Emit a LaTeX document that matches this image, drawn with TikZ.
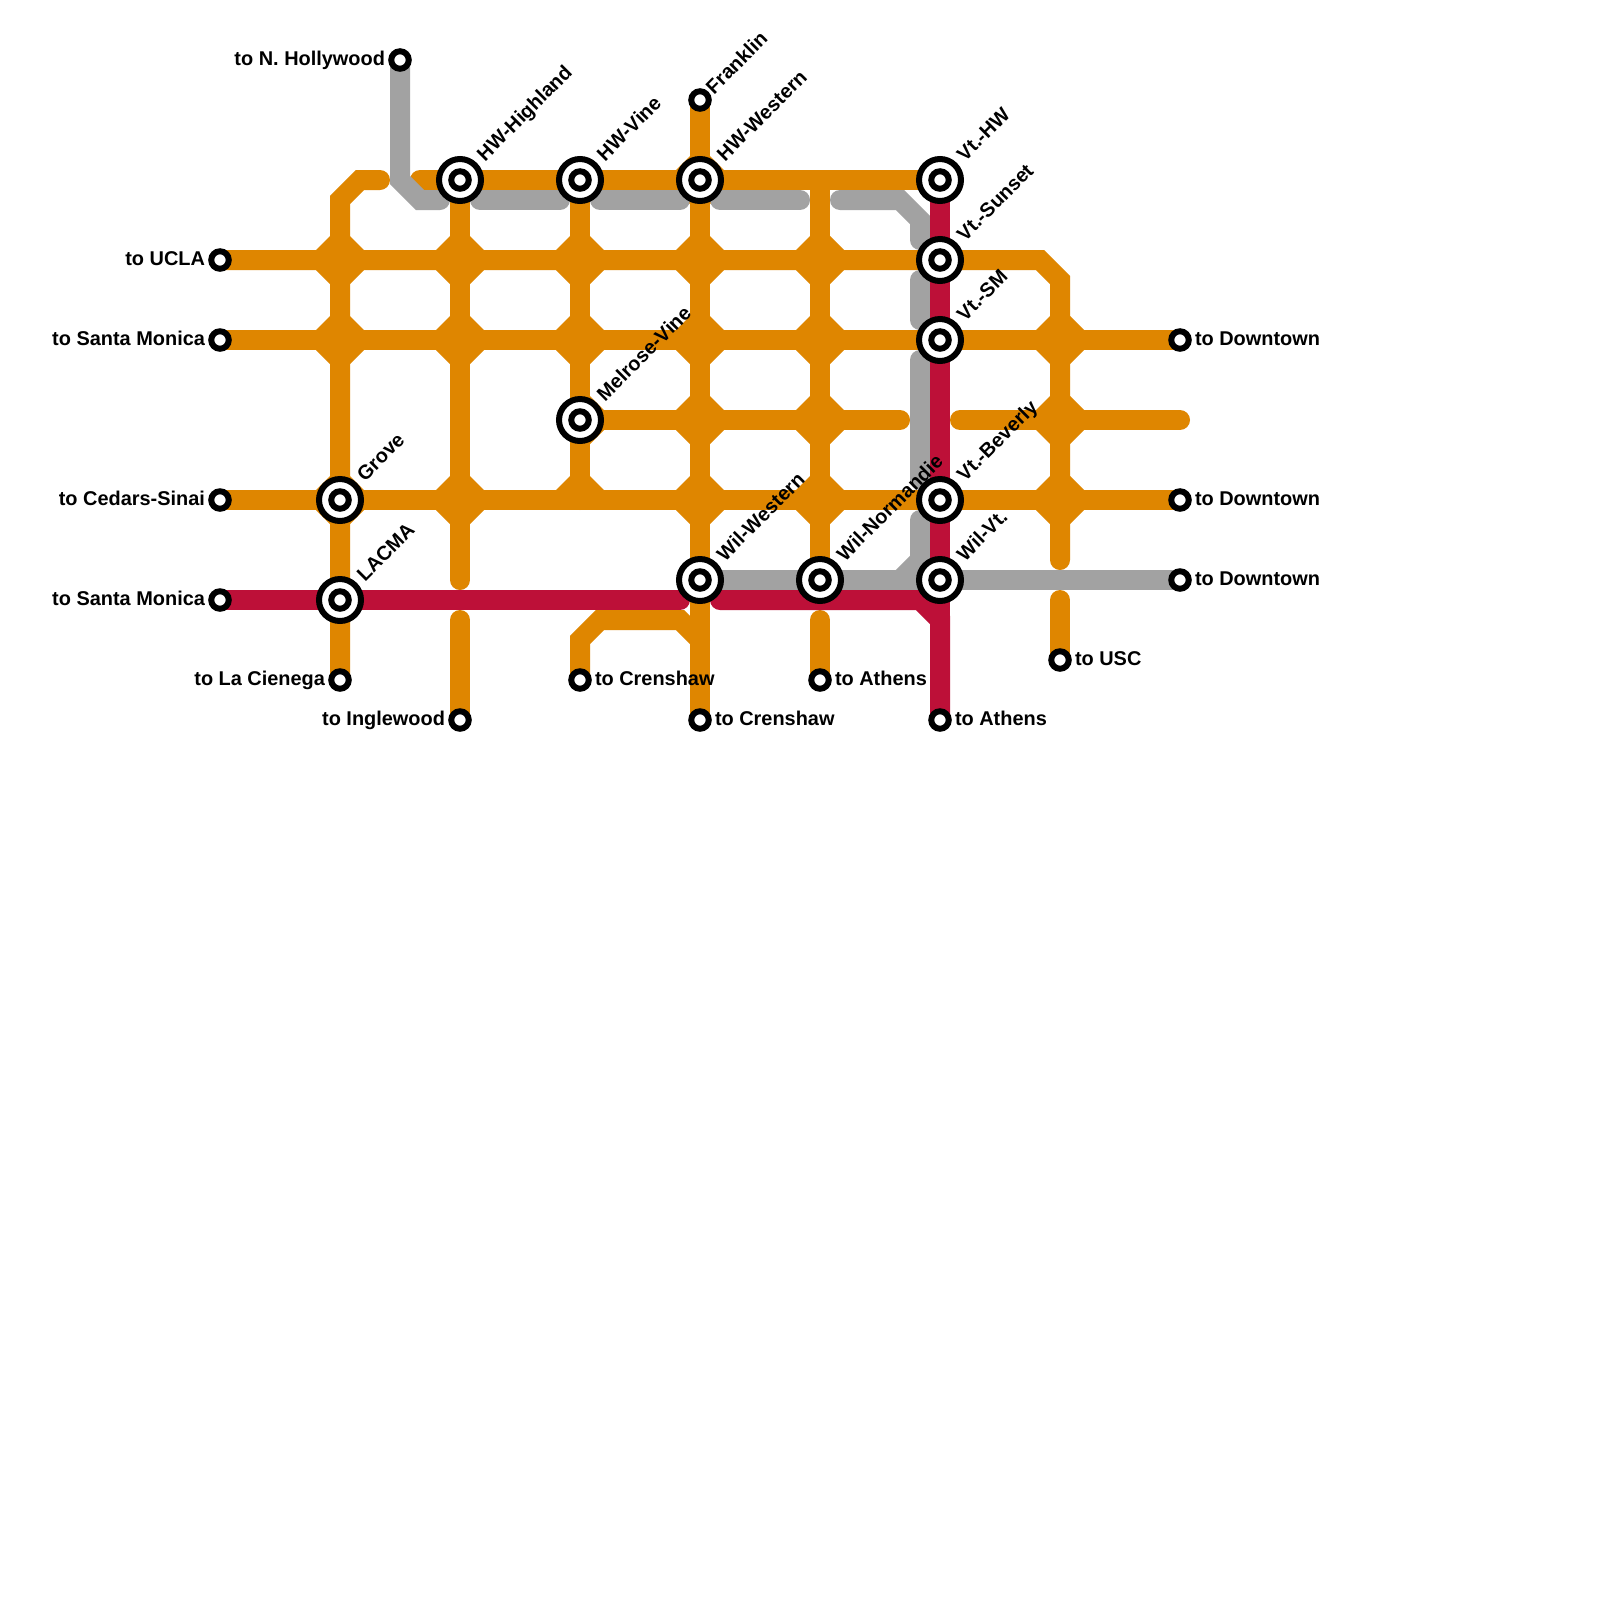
\documentclass[tikz,border=0pt]{standalone}
\usepackage{fontspec}
\setmainfont{Liberation Sans}
\definecolor{lineorange}{HTML}{DF8600}
\definecolor{linered}{HTML}{BD1038}
\definecolor{linegray}{HTML}{A2A2A2}
\pgfdeclarelayer{lines}
\pgfsetlayers{lines,main}
\tikzset{
  route/.style={line width=0.4cm,line cap=round,line join=miter},
  orangeroute/.style={route,draw=lineorange},
  grayroute/.style={route,draw=linegray},
  redroute/.style={route,draw=linered},
  terminal/.style={circle,draw=black,fill=white,line width=0.12cm,minimum size=0.35cm,inner sep=0pt,outer sep=0pt},
  hubring/.style={circle,draw=black,fill=white,line width=0.12cm,minimum size=0.84cm,inner sep=0pt,outer sep=0pt},
  txt/.style={font=\fontsize{11.34}{13}\selectfont\bfseries,inner sep=0pt,outer sep=0pt,text=black},
  slant/.style={txt,rotate=45,anchor=base west},
  rightlbl/.style={txt,anchor=base west},
  leftlbl/.style={txt,anchor=base east},
}
\newcommand{\hubstop}[4]{%
  \node[hubring] (#1) at (#2,#3) {};
  \node[terminal] (#1-core) at (#2,#3) {};
  \node[slant] (#1-label) at (#2+25,#3-18) {#4};
}
\newcommand{\termstop}[5]{%
  \node[terminal] (#1) at (#2,#3) {};
  \ifx#4l\node[leftlbl] (#1-label) at (#2-15,#3+5) {#5};\fi
  \ifx#4r\node[rightlbl] (#1-label) at (#2+15,#3+5) {#5};\fi
  \ifx#4s\node[slant] (#1-label) at (#2+14,#3-5) {#5};\fi
}
\begin{document}
\begin{tikzpicture}[x=0.02cm,y=-0.02cm]
\useasboundingbox (0,0) rectangle (1600,1600);
\foreach \x/\y in {1040/260,1060/280,1060/560,900/420,960/420,1180/420,420/180,340/200,360/180,380/180,
  460/580,460/620,580/500,580/640,600/620,680/620,700/640,820/180,820/620,1060/600,
  400/180,420/200,440/200,480/200,560/200,600/200,680/200,720/200,800/200,840/200,900/200,920/220,920/240,
  920/280,920/320,920/360,920/480,920/520,920/560,900/580,680/600,720/600,920/600,940/620}
  \coordinate (p\x-\y) at (\x,\y);
% stations
\hubstop{hwh}{460}{180}{HW-Highland}
\hubstop{hwv}{580}{180}{HW-Vine}
\hubstop{hww}{700}{180}{HW-Western}
\hubstop{vhw}{940}{180}{Vt.-HW}
\hubstop{vsu}{940}{260}{Vt.-Sunset}
\hubstop{vsm}{940}{340}{Vt.-SM}
\hubstop{mel}{580}{420}{Melrose-Vine}
\hubstop{gro}{340}{500}{Grove}
\hubstop{vbe}{940}{500}{Vt.-Beverly}
\hubstop{lac}{340}{600}{LACMA}
\hubstop{wwe}{700}{580}{Wil-Western}
\hubstop{wno}{820}{580}{Wil-Normandie}
\hubstop{wvt}{940}{580}{Wil-Vt.}
\termstop{tnh}{400}{60}{l}{to N. Hollywood}
\termstop{tfr}{700}{100}{s}{Franklin}
\termstop{tuc}{220}{260}{l}{to UCLA}
\termstop{tsma}{220}{340}{l}{to Santa Monica}
\termstop{tce}{220}{500}{l}{to Cedars-Sinai}
\termstop{tsmb}{220}{600}{l}{to Santa Monica}
\termstop{tla}{340}{680}{l}{to La Cienega}
\termstop{tin}{460}{720}{l}{to Inglewood}
\termstop{tcra}{580}{680}{r}{to Crenshaw}
\termstop{tcrb}{700}{720}{r}{to Crenshaw}
\termstop{tata}{820}{680}{r}{to Athens}
\termstop{tatb}{940}{720}{r}{to Athens}
\termstop{tus}{1060}{660}{r}{to USC}
\termstop{tdoa}{1180}{340}{r}{to Downtown}
\termstop{tdob}{1180}{500}{r}{to Downtown}
\termstop{tdoc}{1180}{580}{r}{to Downtown}
\begin{pgfonlayer}{lines}
\fill[white] (0,0) rectangle (1600,1600);
% orange junctions
\foreach \x/\y in {340/260,460/260,580/260,700/260,820/260,340/340,460/340,580/340,700/340,820/340,1060/340,
  700/420,820/420,1060/420,460/500,700/500,820/500,1060/500,340/500,700/180}
  \fill[lineorange,shift={(\x,\y)}] (-10,-24)--(10,-24)--(24,-10)--(24,10)--(10,24)--(-10,24)--(-24,10)--(-24,-10)--cycle;
\fill[lineorange,shift={(580,500)}] (-24,-10)--(-10,-24)--(10,-24)--(24,-10)--cycle;
\fill[lineorange,shift={(580,420)}] (10,-24)--(24,-10)--(24,10)--(10,24)--cycle;
% orange lines
\draw[orangeroute] (tuc.center) -- (p1040-260) -- (p1060-280) -- (p1060-560);
\draw[orangeroute] (tsma.center) -- (tdoa.center);
\draw[orangeroute] (mel.center) -- (p900-420);
\draw[orangeroute] (p960-420) -- (p1180-420);
\draw[orangeroute] (tce.center) -- (tdob.center);
\draw[orangeroute] (p420-180) -- (vhw.center);
\draw[orangeroute] (tla.center) -- (p340-200) -- (p360-180) -- (p380-180);
\draw[orangeroute] (hwh.center) -- (p460-580);
\draw[orangeroute] (p460-620) -- (tin.center);
\draw[orangeroute] (hwv.center) -- (p580-500);
\draw[orangeroute] (tcra.center) -- (p580-640) -- (p600-620) -- (p680-620) -- (p700-640);
\draw[orangeroute] (tfr.center) -- (tcrb.center);
\draw[orangeroute] (p820-180) -- (wno.center);
\draw[orangeroute] (p820-620) -- (tata.center);
\draw[orangeroute] (p1060-600) -- (tus.center);
% gray lines
\draw[grayroute] (tnh.center) -- (p400-180) -- (p420-200) -- (p440-200);
\draw[grayroute] (p480-200) -- (p560-200);
\draw[grayroute] (p600-200) -- (p680-200);
\draw[grayroute] (p720-200) -- (p800-200);
\draw[grayroute] (p840-200) -- (p900-200) -- (p920-220) -- (p920-240);
\draw[grayroute] (p920-280) -- (p920-320);
\draw[grayroute] (p920-360) -- (p920-480);
\draw[grayroute] (p920-520) -- (p920-560) -- (p900-580);
\draw[grayroute] (wwe.center) -- (tdoc.center);
% red lines
\draw[redroute] (tsmb.center) -- (p680-600);
\draw[redroute] (p720-600) -- (p920-600) -- (p940-620) -- (tatb.center);
\draw[redroute] (vhw.center) -- (tatb.center);
\end{pgfonlayer}
\end{tikzpicture}
\end{document}
